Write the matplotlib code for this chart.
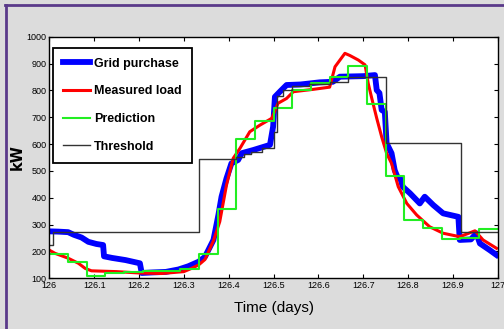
import numpy as np
import matplotlib.pyplot as plt
from matplotlib.lines import Line2D

# grid purchase (blue)
grid_t = [126.0, 126.02, 126.042, 126.055, 126.072, 126.087, 126.105, 126.12, 126.122,
          126.14, 126.17, 126.202, 126.206, 126.23, 126.26, 126.288, 126.31, 126.333,
          126.347, 126.366, 126.377, 126.384, 126.395, 126.406, 126.421, 126.429, 126.455,
          126.492, 126.499, 126.503, 126.514, 126.529, 126.56, 126.603, 126.632, 126.648,
          126.7, 126.726, 126.73, 126.736, 126.741, 126.748, 126.752, 126.763, 126.77,
          126.776, 126.783, 126.788, 126.804, 126.826, 126.837, 126.856, 126.878, 126.912,
          126.915, 126.94, 126.952, 126.96, 126.982, 126.997]
grid_kw = [275, 274, 272, 262, 252, 236, 228, 224, 182, 176, 168, 156, 120, 122, 124,
           133, 145, 162, 180, 243, 336, 404, 472, 528, 541, 566, 578, 597, 665, 776,
           795, 820, 822, 830, 832, 851, 853, 857, 801, 790, 727, 720, 603, 566, 503,
           478, 470, 441, 417, 379, 404, 373, 342, 329, 243, 245, 268, 230, 205, 187]

# measured load (red)
load_t = [126.0, 126.013, 126.042, 126.065, 126.08, 126.094, 126.15, 126.2, 126.25,
          126.3, 126.317, 126.333, 126.347, 126.366, 126.38, 126.395, 126.41, 126.425,
          126.447, 126.47, 126.496, 126.51, 126.529, 126.544, 126.589, 126.625, 126.637,
          126.659, 126.67, 126.689, 126.704, 126.711, 126.719, 126.73, 126.741, 126.752,
          126.763, 126.778, 126.797, 126.819, 126.848, 126.878, 126.915, 126.949, 126.967,
          126.997]
load_kw = [205, 193, 175, 156, 137, 128, 125, 120, 118, 125, 137, 150, 170, 240, 311,
           447, 547, 584, 646, 671, 696, 752, 770, 795, 804, 812, 888, 938, 930, 913,
           895, 826, 770, 696, 627, 566, 528, 441, 379, 336, 292, 268, 255, 277, 243, 212]

# prediction (green), one value per hour
pred_kw = [190, 160, 110, 120, 125, 127, 126, 133, 192, 360, 619, 687, 733, 801,
           826, 851, 892, 749, 482, 317, 289, 248, 251, 283]

# threshold (black)
thr_t = [126.0, 126.008, 126.333, 126.417, 126.435, 126.45, 126.475, 126.5, 126.508,
         126.52, 126.54, 126.58, 126.625, 126.667, 126.75, 126.917, 127.0]
thr_kw = [225, 272, 545, 552, 562, 570, 585, 645, 780, 800, 815, 825, 832, 848, 605,
          273, 273]

fig = plt.figure(figsize=(5.04, 3.29), dpi=100)
fig.patch.set_facecolor('#dcdcdc')

# purple frame on top and left
fig.add_artist(Line2D([5 / 504, 1], [1 - 4.5 / 329, 1 - 4.5 / 329], color='#5a3a8a', lw=2))
fig.add_artist(Line2D([6 / 504, 6 / 504], [0, 1 - 4.5 / 329], color='#5a3a8a', lw=2))

ax = fig.add_axes([0.0978, 0.154, 0.890, 0.7345])
ax.set_facecolor('white')

pred_t = 126 + np.arange(25) / 24.0
ax.plot(grid_t, grid_kw, color='#0000ff', lw=4.2, label='Grid purchase')
ax.plot(load_t, load_kw, color='#ff0000', lw=2.2, label='Measured load')
ax.step(pred_t, pred_kw + [pred_kw[-1]], where='post', color='#22ee22', lw=1.5, label='Prediction')
ax.step(thr_t, thr_kw, where='post', color='#333333', lw=1.0, label='Threshold')

ax.set_xlim(126, 127)
ax.set_ylim(100, 1000)
ax.set_xticks(np.round(np.arange(126, 127.01, 0.1), 1))
ax.set_xticklabels(['126', '126.1', '126.2', '126.3', '126.4', '126.5', '126.6',
                    '126.7', '126.8', '126.9', '127'])
ax.set_yticks(range(100, 1001, 100))
ax.tick_params(direction='in', top=True, right=True, length=3, width=0.8,
               labelsize=6.5, pad=2)
for lab in ax.get_xticklabels() + ax.get_yticklabels():
    lab.set_family('Liberation Sans')
for s in ax.spines.values():
    s.set_linewidth(1.0)

ax.set_xlabel('Time (days)', fontsize=11, family='Liberation Sans', labelpad=8)
ax.set_ylabel('kW', fontsize=10.5, fontweight='bold', labelpad=1)

leg = ax.legend(loc='upper left', bbox_to_anchor=(0.009, 0.954), borderaxespad=0,
                fancybox=False, edgecolor='black', framealpha=1,
                prop={'family': 'Liberation Sans', 'weight': 'bold', 'size': 9},
                handlelength=2.1, labelspacing=1.25, handletextpad=0.35,
                borderpad=0.8)
leg.get_frame().set_linewidth(1.3)

fig.savefig('out.png', dpi=100, facecolor=fig.get_facecolor())
